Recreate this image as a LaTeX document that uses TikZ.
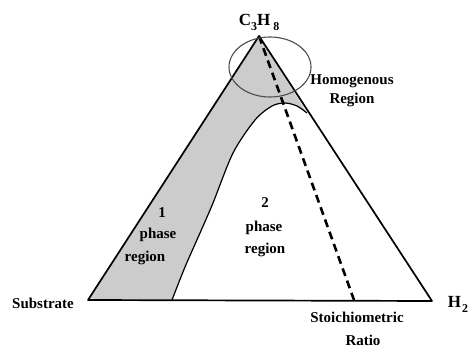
\documentclass[tikz,border=0pt]{standalone}
\usepackage{fontspec}
\setmainfont{Liberation Serif}
\newcommand{\lowsub}[1]{\raisebox{-5pt}{\fontsize{12}{12}\selectfont #1}}
\begin{document}
\begin{tikzpicture}[x=1pt,y=-1pt,
  lbl/.style={font=\fontsize{15}{17}\selectfont\bfseries, inner sep=0pt, align=center},
  big/.style={font=\fontsize{17}{19}\selectfont\bfseries, inner sep=0pt},
  edge/.style={line width=1.7pt, line join=round},
  bin/.style={line width=1.2pt},
  stoich/.style={line width=2.6pt, dash pattern=on 8pt off 5pt}]
\useasboundingbox (0,0) rectangle (472,348);
\coordinate (apex) at (259,36);
\coordinate (L) at (88,300);
\coordinate (R) at (432,301);
\coordinate (B1) at (172,300);
\coordinate (J) at (307,113);
\coordinate (S) at (354,300);
% gray one-phase region
\fill[gray!40] (apex) -- (L) -- (B1)
  plot[smooth] coordinates {(172,300) (185,267) (200,233) (213,203) (233,153) (255,120) (272,106) (285,103) (297,106) (307,113)}
  -- (apex) -- cycle;
\draw[bin] plot[smooth] coordinates {(172,300) (185,267) (200,233) (213,203) (233,153) (255,120) (272,106) (285,103) (297,106) (307,113)};
\draw[edge] (apex) -- (L) -- (R) -- cycle;
\draw[stoich] (apex) -- (S);
\draw[line width=1.1pt, gray!60!black] (270,67) ellipse [x radius=41, y radius=30];
% labels
\node[big] (c3h8) at (259,22) {C\lowsub{3}H\hspace{3pt}\lowsub{8}};
\node[lbl] (homo) at (352,91) {Homogenous\\[2pt]Region};
\node[lbl] (one) at (162,213) {1};
\node[lbl] (onep) at (158,235) {phase};
\node[lbl] (oner) at (145,258) {region};
\node[lbl] (two) at (265,203) {2};
\node[lbl] (twop) at (264,228) {phase};
\node[lbl] (twor) at (265,250) {region};
\node[lbl] (sub) at (43,303) {Substrate};
\node[big] (h2) at (458,304) {H\hspace{1pt}\lowsub{2}};
\node[lbl] (sto) at (357,317) {Stoichiometric};
\node[lbl] (ratio) at (363,340) {Ratio};
\end{tikzpicture}
\end{document}
